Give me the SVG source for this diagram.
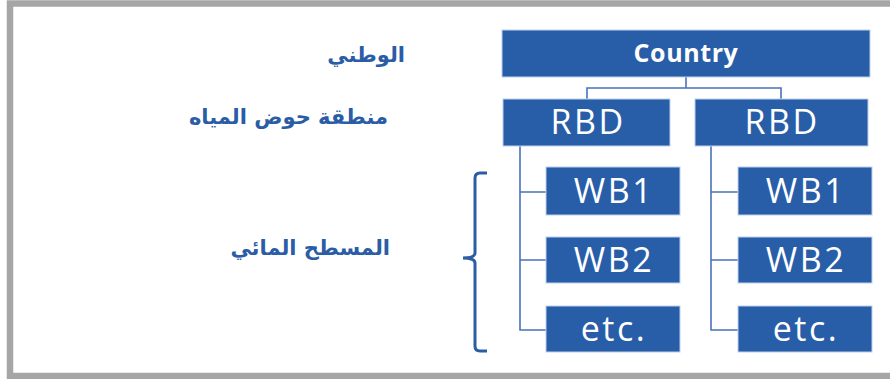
<svg xmlns="http://www.w3.org/2000/svg" width="890" height="379" viewBox="0 0 890 379">
<style>
.box{fill:#285DA8;stroke:#BDD0EC;stroke-width:1}
.lbl{fill:#FFFFFF;font-family:"Open Sans","Liberation Sans",sans-serif;text-anchor:middle}
.big{font-size:34px;letter-spacing:2.5px}
.ar{fill:#2B5CA6;font-family:"DejaVu Sans","Noto Sans",sans-serif;font-weight:bold;font-size:21px;text-anchor:end}
.con{fill:none;stroke:#4A72BC;stroke-width:1.6}
</style>
<rect x="0" y="0" width="890" height="379" fill="#FFFFFF"/>
<rect x="10" y="3.5" width="890" height="372.5" fill="none" stroke="#A6A6A6" stroke-width="6.5"/>
<g id="labels">
<text class="ar" x="405" y="62">الوطني</text>
<text class="ar" x="388" y="124">منطقة حوض المياه</text>
<text class="ar" x="390" y="255">المسطح المائي</text>
</g>
<g id="connectors">
<path class="con" d="M686 77 V88 M587 99 V88 H781 V99"/>
<path class="con" d="M520 146 V330 H546 M520 192 H546 M520 260 H546"/>
<path class="con" d="M711 146 V330 H738 M711 192 H738 M711 260 H738"/>
<path d="M487 173 H480 Q475 173 475 178 V253 Q475 258 463 258 Q475 258 475 263 V346 Q475 351 480 351 H487" fill="none" stroke="#2B5CA6" stroke-width="3"/>
</g>
<g id="country"><rect class="box" x="502" y="30" width="368" height="47"/><text class="lbl" x="686" y="62" font-size="25" font-weight="bold" letter-spacing="0.6">Country</text></g>
<g id="rbd1"><rect class="box" x="503" y="99" width="167" height="47"/><text class="lbl big" x="588" y="134" font-size="32" letter-spacing="3">RBD</text></g>
<g id="rbd2"><rect class="box" x="695" y="99" width="173" height="47"/><text class="lbl big" x="782" y="134" font-size="32" letter-spacing="3">RBD</text></g>
<g id="wb1a"><rect class="box" x="546" y="167" width="134" height="48"/><text class="lbl big" x="614" y="203">WB1</text></g>
<g id="wb2a"><rect class="box" x="546" y="237" width="134" height="46"/><text class="lbl big" x="614" y="272">WB2</text></g>
<g id="etca"><rect class="box" x="546" y="306" width="134" height="46"/><text class="lbl big" x="614" y="341">etc.</text></g>
<g id="wb1b"><rect class="box" x="738" y="167" width="134" height="48"/><text class="lbl big" x="806" y="203">WB1</text></g>
<g id="wb2b"><rect class="box" x="738" y="237" width="134" height="46"/><text class="lbl big" x="806" y="272">WB2</text></g>
<g id="etcb"><rect class="box" x="738" y="306" width="134" height="46"/><text class="lbl big" x="806" y="341">etc.</text></g>
</svg>
